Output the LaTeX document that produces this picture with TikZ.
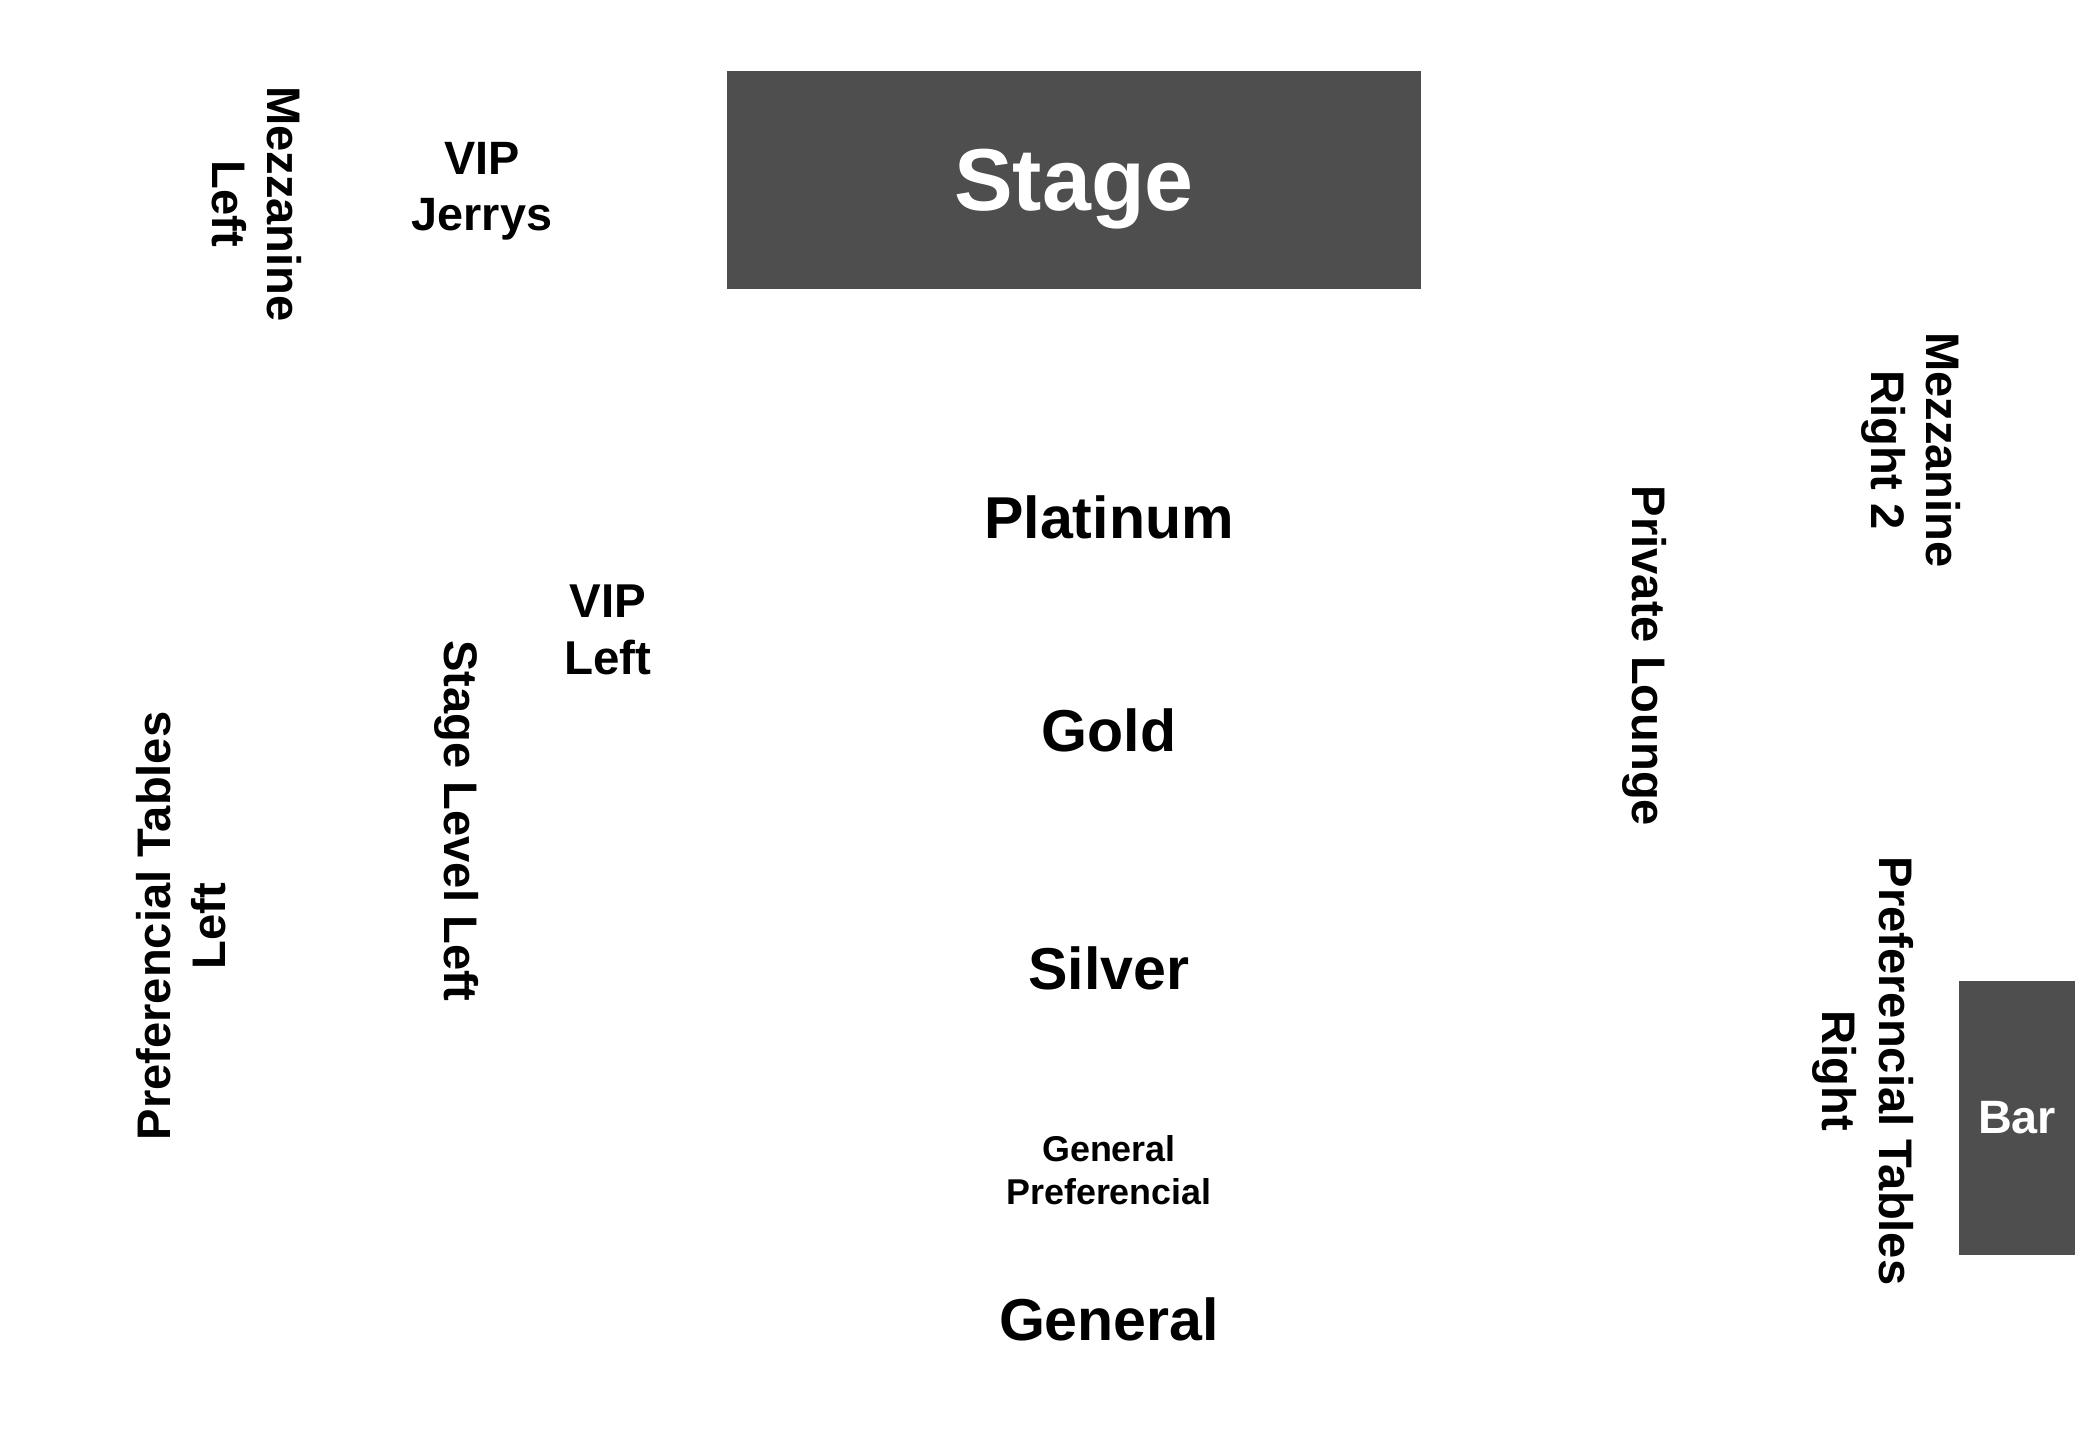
\documentclass[tikz,border=0pt]{standalone}
\usepackage{fontspec}
\setmainfont{Liberation Sans}
\usepackage{tikz}
\definecolor{blockgray}{HTML}{4E4E4E}

\tikzset{
  area/.style={font=\bfseries\fontsize{13.4}{15.6}\selectfont,align=center,inner sep=0pt},
  bigarea/.style={font=\bfseries\fontsize{16.8}{19}\selectfont,align=center,inner sep=0pt},
  block/.style={fill=blockgray,text=white,inner sep=0pt,font=\bfseries}
}

\begin{document}
\begin{tikzpicture}[x=0.01cm,y=-0.01cm]
\useasboundingbox (0,0) rectangle (2100,1452);
% stage and bar
\node[block,minimum width=6.94cm,minimum height=2.17cm,text depth=0pt,font=\bfseries\fontsize{25}{30}\selectfont] (stage) at (1074,180) {Stage};
\node[block,minimum width=1.16cm,minimum height=2.73cm,font=\bfseries\fontsize{13.3}{16}\selectfont] (bar) at (2017,1118) {Bar};
% middle floor
\node[bigarea] (platinum) at (1109,517) {Platinum};
\node[bigarea] (gold) at (1109,730) {Gold};
\node[bigarea] (silver) at (1109,968) {Silver};
\node[area,font=\bfseries\fontsize{10.2}{12.2}\selectfont] (genpref) at (1109,1170) {General\\Preferencial};
\node[bigarea] (general) at (1109,1319) {General};
% left side
\node[area,font=\bfseries\fontsize{13.3}{16}\selectfont] (vipjerrys) at (482,191) {VIP\\Jerrys};
\node[area,font=\bfseries\fontsize{13.5}{16}\selectfont] (vipleft) at (608,630) {VIP\\Left};
\node[area,rotate=-90] (mezzleft) at (257,204) {Mezzanine\\Left};
\node[area,rotate=-90] (stagelevel) at (457,821) {Stage Level Left};
\node[area,rotate=90] (preftabsleft) at (181,926) {Preferencial Tables\\Left};
% right side
\node[area,rotate=-90] (lounge) at (1645,656) {Private Lounge};
\node[area,rotate=-90] (mezzright) at (1911,450) {Mezzanine\\Right 2};
\node[area,rotate=-90,font=\bfseries\fontsize{13.4}{16}\selectfont] (preftabsright) at (1863,1071) {Preferencial Tables\\Right};
\end{tikzpicture}
\end{document}
